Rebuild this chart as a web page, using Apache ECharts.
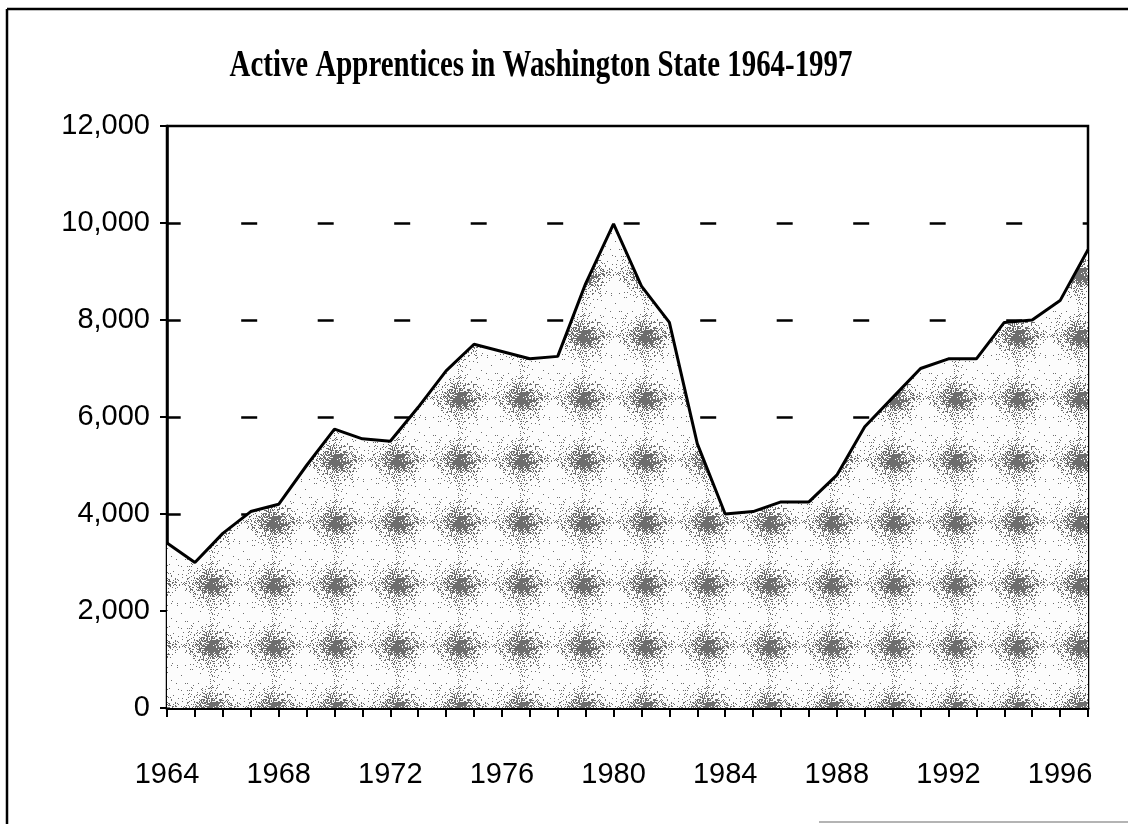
<!DOCTYPE html>
<html>
<head>
<meta charset="utf-8">
<script src="https://cdn.jsdelivr.net/npm/echarts@6/dist/echarts.min.js"></script>
<style>
  html, body { margin: 0; padding: 0; background: #fff; }
  #chart { width: 1128px; height: 824px; }
</style>
</head>
<body>
<div id="chart"></div>
<script>
// active apprentices
var years = ["1964","1965","1966","1967","1968","1969","1970","1971","1972","1973",
             "1974","1975","1976","1977","1978","1979","1980","1981","1982","1983",
             "1984","1985","1986","1987","1988","1989","1990","1991","1992","1993",
             "1994","1995","1996","1997"];
var apprentices = [3400, 3000, 3600, 4050, 4200, 5000, 5750, 5550, 5500, 6200,
                   6950, 7500, 7350, 7200, 7250, 8750, 9980, 8700, 7950, 5450,
                   4000, 4050, 4250, 4250, 4800, 5800, 6400, 7000, 7200, 7200,
                   7950, 8000, 8400, 9450];
var yTicks = [0, 2000, 4000, 6000, 8000, 10000, 12000];

// halftone-ish tile for the area fill (the scanned original is a mottled grey)
function makeTile() {
    var n = 62, cx = 25, cy = 27;
    var c = document.createElement("canvas");
    c.width = n; c.height = n;
    var g = c.getContext("2d");
    g.fillStyle = "#fcfcfc";
    g.fillRect(0, 0, n, n);
    var seed = 12345;
    function next() {
        seed = (seed * 1103515245 + 12345) & 0x7fffffff;
        return seed / 0x7fffffff;
    }
    g.fillStyle = "#6e6e6e";
    for (var y = 0; y < n; y++) {
        for (var x = 0; x < n; x++) {
            var dx = Math.abs(x - cx); dx = Math.min(dx, n - dx);
            var dy = Math.abs(y - cy); dy = Math.min(dy, n - dy);
            var p = 0.75 * Math.exp(-(dx * dx) / (2 * 12 * 12) - (dy * dy) / (2 * 10 * 10));
            p += 0.14 * Math.exp(-(dy * dy) / (2 * 3 * 3));
            p += 0.10 * Math.exp(-(dx * dx) / (2 * 2.5 * 2.5));
            p += 0.02;
            if (next() < p) g.fillRect(x, y, 1, 1);
        }
    }
    return c;
}

var chart = echarts.init(document.getElementById("chart"), null, { renderer: "canvas" });

chart.setOption({
    animation: false,
    backgroundColor: "#fff",
    grid: {
        left: 167, right: 40, top: 126, bottom: 116,
        containLabel: false,
        outerBoundsMode: "none",
        show: true,
        borderColor: "#000",
        borderWidth: 2.5,
        backgroundColor: "transparent"
    },
    graphic: [
        { type: "line", shape: { x1: 7, y1: 9, x2: 1128, y2: 9 }, style: { stroke: "#000", lineWidth: 2.5 } },
        { type: "line", shape: { x1: 7, y1: 9, x2: 7, y2: 824 }, style: { stroke: "#000", lineWidth: 2.5 } },
        { type: "line", shape: { x1: 819, y1: 822, x2: 1128, y2: 822 }, style: { stroke: "#b4b4b4", lineWidth: 2 } },
        {
            type: "text", x: 541, y: 66, scaleX: 0.76,
            style: {
                text: "Active Apprentices in Washington State 1964-1997",
                font: 'bold 38px "Liberation Serif", "Times New Roman", serif',
                fill: "#000",
                align: "center",
                verticalAlign: "middle"
            }
        }
    ],
    xAxis: {
        type: "category",
        data: years,
        boundaryGap: false,
        axisLine: { show: true, lineStyle: { color: "#000", width: 3 } },
        axisTick: { show: true, interval: 0, length: 9, inside: false, lineStyle: { color: "#000", width: 2 } },
        axisLabel: {
            interval: 3, margin: 52, color: "#000",
            fontFamily: '"Liberation Sans", Arial, sans-serif', fontSize: 29
        },
        splitLine: { show: false }
    },
    yAxis: {
        type: "value",
        min: yTicks[0], max: yTicks[yTicks.length - 1], interval: 2000,
        axisLine: { show: true, lineStyle: { color: "#000", width: 2.5 } },
        axisTick: { show: true, length: 7, inside: false, lineStyle: { color: "#000", width: 2 } },
        axisLabel: {
            margin: 17, color: "#000",
            fontFamily: '"Liberation Sans", Arial, sans-serif', fontSize: 29,
            formatter: function (v) { return v.toLocaleString("en-US"); }
        },
        splitLine: {
            show: true,
            showMaxLine: false,
            lineStyle: { color: "#000", width: 2.5, type: [16, 60.5], dashOffset: 2.3 }
        }
    },
    series: [{
        type: "line",
        data: apprentices,
        symbol: "none",
        smooth: false,
        lineStyle: { color: "#000", width: 3 },
        areaStyle: { color: { image: makeTile(), repeat: "repeat" }, opacity: 1 },
        z: 2
    }]
});
</script>
</body>
</html>
